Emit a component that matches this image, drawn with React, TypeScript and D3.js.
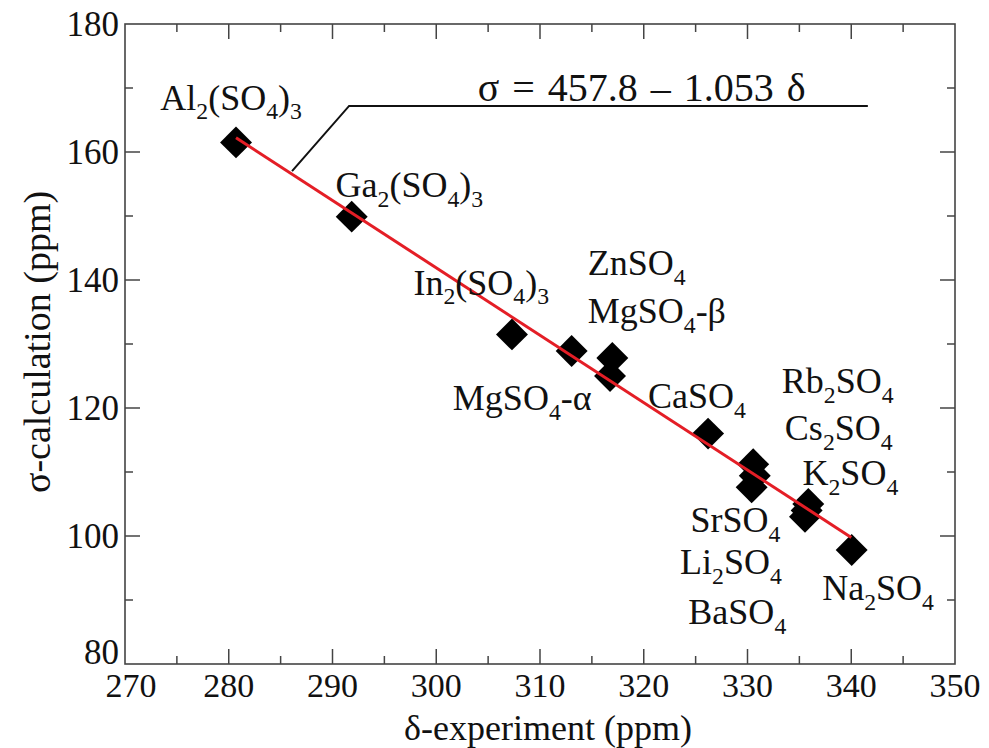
import * as d3 from "d3";
import React from "react";

// data
const names = [
  "Al2(SO4)3", "Ga2(SO4)3", "In2(SO4)3", "MgSO4-α", "ZnSO4", "MgSO4-β", "CaSO4",
  "SrSO4", "Li2SO4", "BaSO4", "Rb2SO4", "Cs2SO4", "K2SO4", "Na2SO4",
];
const deltaExp = [280.7, 291.85, 307.3, 313.05, 316.97, 316.75, 326.2, 330.55, 330.7, 330.4, 335.86, 335.7, 335.54, 340.04];
const sigmaCalc = [161.5, 149.9, 131.5, 128.9, 127.8, 125.0, 116.0, 111.2, 109.4, 107.6, 105.0, 104.0, 103.0, 97.8];

// where each name is written (data units)
const labelX = [273.4, 290.3, 297.8, 301.6, 314.6, 314.6, 320.4, 324.5, 323.5, 324.3, 333.3, 333.6, 335.3, 337.2];
const labelY = [166.6, 153.0, 137.7, 119.7, 140.8, 133.3, 120.0, 100.6, 94.0, 86.2, 122.3, 115.0, 108.0, 90.0];

// fit: sigma = 457.8 - 1.053 delta
const fitA = 457.8;
const fitB = 1.053;
const fitRange = [280.7, 340.0];

// leader line for the equation
const leaderX = [286.1, 291.6, 341.6];
const leaderY = [157.0, 167.2, 167.2];
const eqPos = [304.0, 168.0];

const xTicks = d3.range(270, 351, 10);
const xMinor = d3.range(275, 350, 10);
const yTicks = d3.range(80, 181, 20);
const yMinor = d3.range(90, 180, 20);

const W = 989, H = 748;
const L = 125, R = 955, T = 24, B = 664;
const FONT = "'Liberation Serif', 'DejaVu Serif', serif";

function Formula({ s, x, y, size, anchor = "start" }: any) {
  // digits after a letter or ')' become subscripts
  const parts: { t: string; sub: boolean }[] = [];
  for (let i = 0; i < s.length; i++) {
    const c = s[i];
    const sub = /[0-9]/.test(c) && i > 0 && /[A-Za-z)]/.test(s[i - 1]);
    const last = parts[parts.length - 1];
    if (last && last.sub === sub) last.t += c;
    else parts.push({ t: c, sub });
  }
  const shift = size * 0.27;
  let prevSub = false;
  return (
    <text x={x} y={y} fontFamily={FONT} fontSize={size} textAnchor={anchor} fill="#111">
      {parts.map((p, i) => {
        const dy = p.sub && !prevSub ? shift : !p.sub && prevSub ? -shift : 0;
        prevSub = p.sub;
        return (
          <tspan key={i} dy={dy} fontSize={p.sub ? size * 0.66 : size}>
            {p.t}
          </tspan>
        );
      })}
    </text>
  );
}

export default function App() {
  const x = d3.scaleLinear().domain([270, 350]).range([L, R]);
  const y = d3.scaleLinear().domain([80, 180]).range([B, T]);
  const diamond = d3.symbol(d3.symbolSquare, 510)();
  const fitLine = d3.line<number>().x((d) => x(d)).y((d) => y(fitA - fitB * d));
  const leader = d3.line<number>().x((d) => x(d)).y((_, i) => y(leaderY[i]));
  const axisColor = "#444";

  return (
    <svg width={W} height={H} style={{ position: "absolute", left: 0, top: 0, background: "#fff" }}>
      <rect x={0} y={0} width={W} height={H} fill="#fff" />

      {/* frame */}
      <rect x={L} y={T} width={R - L} height={B - T} fill="none" stroke={axisColor} strokeWidth={1.6} />

      {/* ticks */}
      {xTicks.slice(1, -1).map((t) => (
        <g key={"xt" + t} stroke={axisColor} strokeWidth={1.5}>
          <line x1={x(t)} x2={x(t)} y1={B} y2={B - 15} />
          <line x1={x(t)} x2={x(t)} y1={T} y2={T + 15} />
        </g>
      ))}
      {xMinor.map((t) => (
        <g key={"xm" + t} stroke={axisColor} strokeWidth={1.5}>
          <line x1={x(t)} x2={x(t)} y1={B} y2={B - 8} />
          <line x1={x(t)} x2={x(t)} y1={T} y2={T + 8} />
        </g>
      ))}
      {yTicks.slice(1, -1).map((t) => (
        <g key={"yt" + t} stroke={axisColor} strokeWidth={1.5}>
          <line x1={L} x2={L + 15} y1={y(t)} y2={y(t)} />
          <line x1={R} x2={R - 15} y1={y(t)} y2={y(t)} />
        </g>
      ))}
      {yMinor.map((t) => (
        <g key={"ym" + t} stroke={axisColor} strokeWidth={1.5}>
          <line x1={L} x2={L + 8} y1={y(t)} y2={y(t)} />
          <line x1={R} x2={R - 8} y1={y(t)} y2={y(t)} />
        </g>
      ))}

      {/* tick labels */}
      {xTicks.map((t) => (
        <text key={"xl" + t} x={x(t) + (t === 270 ? 6 : 0)} y={B + 33} textAnchor="middle" fontFamily={FONT} fontSize={34} fill="#111">
          {t}
        </text>
      ))}
      {yTicks.map((t) => (
        <text
          key={"yl" + t}
          x={L - 6}
          y={y(t) + (t === 80 ? 0 : 12)}
          textAnchor="end"
          fontFamily={FONT}
          fontSize={35}
          fill="#111"
        >
          {t}
        </text>
      ))}

      {/* axis titles */}
      <text x={548} y={740} textAnchor="middle" fontFamily={FONT} fontSize={36} fill="#111">
        δ-experiment (ppm)
      </text>
      <text
        transform={`translate(50,${(T + B) / 2 - 2}) rotate(-90)`}
        textAnchor="middle"
        fontFamily={FONT}
        fontSize={38}
        fill="#111"
      >
        σ-calculation (ppm)
      </text>

      {/* leader + equation */}
      <path d={leader(leaderX) || ""} fill="none" stroke="#111" strokeWidth={2} />
      <text x={x(eqPos[0])} y={y(eqPos[1])} fontFamily={FONT} fontSize={40} wordSpacing={3} fill="#111">
        σ = 457.8 – 1.053 δ
      </text>

      {/* points */}
      {deltaExp.map((d, i) => (
        <path key={"p" + i} d={diamond || ""} transform={`translate(${x(d)},${y(sigmaCalc[i])}) rotate(45)`} fill="#000" />
      ))}

      {/* fit line */}
      <path d={fitLine(fitRange) || ""} fill="none" stroke="#e41e26" strokeWidth={3} />

      {/* labels */}
      {names.map((n, i) => (
        <Formula key={"n" + i} s={n} x={x(labelX[i])} y={y(labelY[i])} size={36} />
      ))}
    </svg>
  );
}
